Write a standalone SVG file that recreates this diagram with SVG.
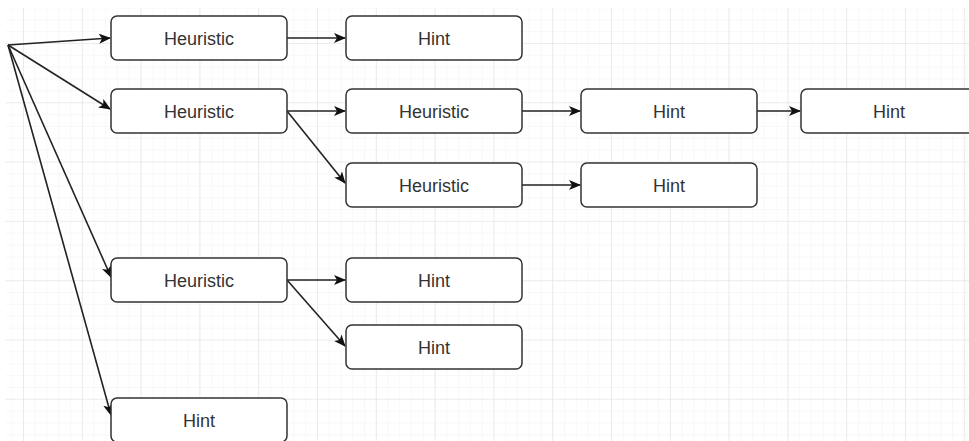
<svg xmlns="http://www.w3.org/2000/svg" width="969" height="441" viewBox="0 0 969 441">
<defs>
<pattern id="minor" x="23" y="43" width="11.76" height="11.86" patternUnits="userSpaceOnUse">
<path d="M0 0V11.86M0 0H11.76" fill="none" stroke="#f1f1f1" stroke-width="1"/>
</pattern>
<pattern id="major" x="23" y="43" width="58.8" height="59.3" patternUnits="userSpaceOnUse">
<path d="M0 0V59.3M0 0H58.8" fill="none" stroke="#e2e2e2" stroke-width="1.2"/>
</pattern>
<marker id="arr" viewBox="0 0 12 10" refX="11" refY="5" markerWidth="12" markerHeight="10" markerUnits="userSpaceOnUse" orient="auto">
<path d="M0 0L12 5L0 10L3 5Z" fill="#111"/>
</marker>
</defs>
<style>
.box{fill:#fff;stroke:#333;stroke-width:1.5}
.lbl{font-family:"Liberation Sans",Arial,sans-serif;font-size:18px;fill:#333;text-anchor:middle}
.edge{fill:none;stroke:#222;stroke-width:1.6;marker-end:url(#arr)}
</style>
<rect width="969" height="441" fill="#fff"/>
<rect x="5" y="8" width="964" height="433" fill="url(#minor)"/>
<rect x="5" y="8" width="964" height="433" fill="url(#major)"/>
<g id="connectors">
<path class="edge" d="M8 45L110 38"/>
<path class="edge" d="M8 45L110 109"/>
<path class="edge" d="M8 45L111 277"/>
<path class="edge" d="M8 45L111 415"/>
<path class="edge" d="M287 38H345"/>
<path class="edge" d="M287 111H345"/>
<path class="edge" d="M287 111L345 183"/>
<path class="edge" d="M522 111H580"/>
<path class="edge" d="M757 111H800"/>
<path class="edge" d="M522 185H580"/>
<path class="edge" d="M287 280H345"/>
<path class="edge" d="M287 280L345 346"/>
</g>
<g id="n1"><rect class="box" x="111" y="16" width="176" height="44" rx="6"/><text class="lbl" x="199" y="45">Heuristic</text></g>
<g id="n2"><rect class="box" x="346" y="16" width="176" height="44" rx="6"/><text class="lbl" x="434" y="45">Hint</text></g>
<g id="n3"><rect class="box" x="111" y="89" width="176" height="44" rx="6"/><text class="lbl" x="199" y="118">Heuristic</text></g>
<g id="n4"><rect class="box" x="346" y="89" width="176" height="44" rx="6"/><text class="lbl" x="434" y="118">Heuristic</text></g>
<g id="n5"><rect class="box" x="581" y="89" width="176" height="44" rx="6"/><text class="lbl" x="669" y="118">Hint</text></g>
<g id="n6"><rect class="box" x="801" y="89" width="176" height="44" rx="6"/><text class="lbl" x="889" y="118">Hint</text></g>
<g id="n7"><rect class="box" x="346" y="163" width="176" height="44" rx="6"/><text class="lbl" x="434" y="192">Heuristic</text></g>
<g id="n8"><rect class="box" x="581" y="163" width="176" height="44" rx="6"/><text class="lbl" x="669" y="192">Hint</text></g>
<g id="n9"><rect class="box" x="111" y="258" width="176" height="44" rx="6"/><text class="lbl" x="199" y="287">Heuristic</text></g>
<g id="n10"><rect class="box" x="346" y="258" width="176" height="44" rx="6"/><text class="lbl" x="434" y="287">Hint</text></g>
<g id="n11"><rect class="box" x="346" y="325" width="176" height="44" rx="6"/><text class="lbl" x="434" y="354">Hint</text></g>
<g id="n12"><rect class="box" x="111" y="398" width="176" height="44" rx="6"/><text class="lbl" x="199" y="427">Hint</text></g>
</svg>
